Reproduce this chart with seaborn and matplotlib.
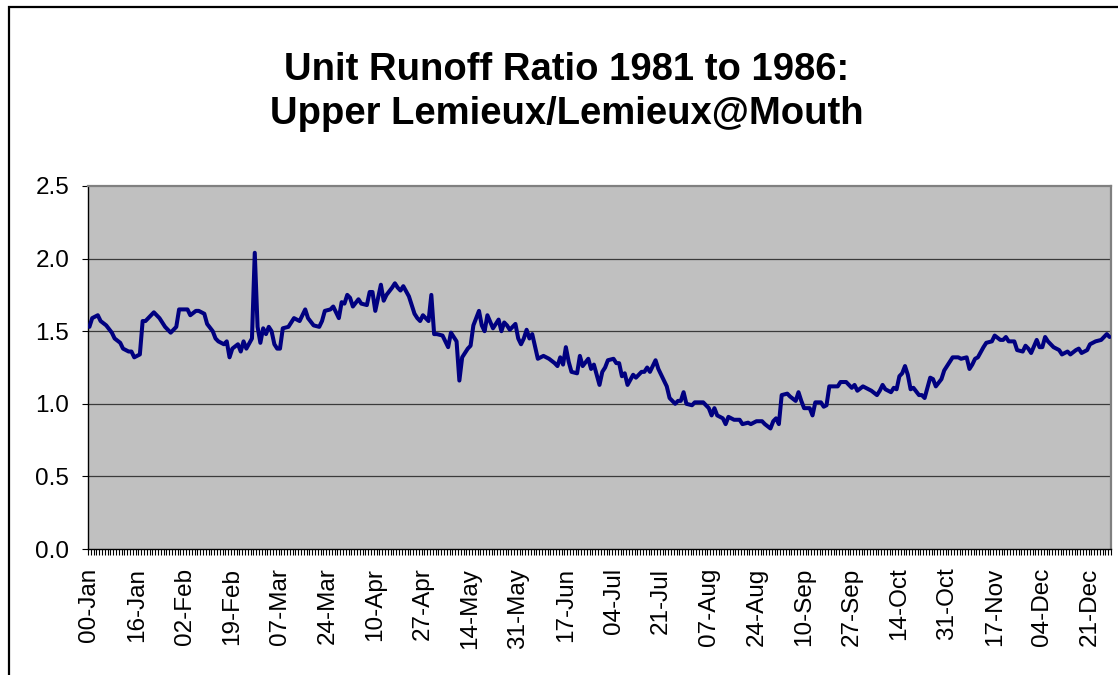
import numpy as np
import pandas as pd
import matplotlib
matplotlib.use("Agg")
import matplotlib.pyplot as plt
from matplotlib.patches import Rectangle
import seaborn as sns

# day of year (category index) and unit runoff ratio
day = [0, 1, 3, 4, 6, 8, 9, 11, 12, 14, 15, 16, 18, 19, 20, 21, 23, 25, 27, 29,
       31, 32, 33, 35, 36, 38, 39, 41, 42, 44, 45, 46, 48, 49, 50, 51, 53, 54, 55, 56,
       58, 59, 60, 61, 62, 63, 64, 65, 66, 67, 68, 69, 71, 73, 75, 77, 78, 80, 82, 83,
       84, 86, 87, 89, 90, 91, 92, 93, 94, 96, 97, 99, 100, 101, 102, 103, 104, 105, 106, 108,
       109, 110, 111, 112, 114, 116, 117, 118, 119, 121, 122, 123, 124, 126, 128, 129, 131, 132, 133, 135,
       136, 137, 139, 140, 141, 142, 144, 145, 146, 147, 148, 149, 150, 152, 153, 154, 155, 156, 157, 158,
       160, 162, 164, 166, 167, 168, 169, 170, 171, 172, 174, 175, 176, 178, 179, 180, 182, 183, 184, 185,
       187, 188, 189, 190, 191, 192, 194, 195, 197, 198, 199, 200, 202, 203, 205, 206, 207, 209, 210, 211,
       212, 213, 215, 216, 218, 219, 221, 222, 223, 224, 226, 227, 228, 230, 232, 233, 235, 236, 238, 240,
       241, 243, 244, 245, 246, 247, 249, 250, 252, 253, 254, 255, 257, 258, 259, 261, 262, 263, 264, 266,
       267, 268, 270, 272, 273, 274, 276, 278, 279, 281, 282, 283, 284, 286, 287, 288, 289, 290, 291, 292,
       293, 294, 296, 297, 298, 300, 301, 302, 304, 305, 306, 308, 310, 311, 313, 314, 315, 316, 317, 319,
       320, 322, 323, 325, 326, 327, 328, 330, 331, 333, 334, 335, 336, 338, 339, 340, 341, 342, 344, 346,
       347, 349, 350, 352, 353, 354, 356, 357, 359, 361, 362, 363, 364]

ratio = [1.53, 1.59, 1.61, 1.57, 1.54, 1.49, 1.45, 1.42, 1.38, 1.36, 1.36, 1.32, 1.34, 1.57, 1.57, 1.59, 1.63, 1.59, 1.53, 1.49,
         1.53, 1.65, 1.65, 1.65, 1.61, 1.64, 1.64, 1.62, 1.55, 1.50, 1.45, 1.43, 1.41, 1.43, 1.32, 1.38, 1.41, 1.36, 1.43, 1.38,
         1.45, 2.04, 1.53, 1.42, 1.52, 1.48, 1.53, 1.50, 1.41, 1.38, 1.38, 1.52, 1.53, 1.59, 1.57, 1.65, 1.59, 1.54, 1.53, 1.57,
         1.64, 1.65, 1.67, 1.59, 1.70, 1.69, 1.75, 1.73, 1.67, 1.72, 1.69, 1.68, 1.77, 1.77, 1.64, 1.73, 1.82, 1.71, 1.75, 1.80,
         1.83, 1.80, 1.78, 1.81, 1.74, 1.62, 1.59, 1.57, 1.61, 1.57, 1.75, 1.48, 1.48, 1.47, 1.39, 1.49, 1.43, 1.16, 1.32, 1.38,
         1.40, 1.54, 1.64, 1.54, 1.50, 1.61, 1.52, 1.55, 1.58, 1.50, 1.56, 1.54, 1.51, 1.55, 1.45, 1.41, 1.45, 1.51, 1.45, 1.48,
         1.31, 1.33, 1.31, 1.28, 1.26, 1.32, 1.27, 1.39, 1.29, 1.22, 1.21, 1.33, 1.26, 1.31, 1.24, 1.27, 1.13, 1.22, 1.25, 1.30,
         1.31, 1.28, 1.28, 1.19, 1.21, 1.13, 1.20, 1.18, 1.22, 1.22, 1.25, 1.22, 1.30, 1.24, 1.16, 1.12, 1.04, 1.00, 1.02, 1.02,
         1.08, 1.00, 0.99, 1.01, 1.01, 1.01, 0.97, 0.92, 0.97, 0.92, 0.90, 0.86, 0.91, 0.89, 0.89, 0.86, 0.87, 0.86, 0.88, 0.88,
         0.86, 0.83, 0.88, 0.90, 0.86, 1.06, 1.07, 1.05, 1.02, 1.08, 1.02, 0.97, 0.97, 0.92, 1.01, 1.01, 0.98, 0.99, 1.12, 1.12,
         1.12, 1.15, 1.15, 1.11, 1.13, 1.09, 1.12, 1.10, 1.09, 1.06, 1.09, 1.13, 1.10, 1.08, 1.11, 1.10, 1.19, 1.21, 1.26, 1.20,
         1.10, 1.11, 1.06, 1.06, 1.04, 1.18, 1.17, 1.12, 1.17, 1.23, 1.26, 1.32, 1.32, 1.31, 1.32, 1.24, 1.27, 1.31, 1.32, 1.39,
         1.42, 1.43, 1.47, 1.44, 1.44, 1.46, 1.43, 1.43, 1.37, 1.36, 1.40, 1.38, 1.35, 1.44, 1.39, 1.39, 1.46, 1.43, 1.39, 1.37,
         1.34, 1.36, 1.34, 1.37, 1.38, 1.35, 1.37, 1.41, 1.43, 1.44, 1.46, 1.48, 1.46]

n_days = 365
date_labels = ["00-Jan", "16-Jan", "02-Feb", "19-Feb", "07-Mar", "24-Mar", "10-Apr", "27-Apr",
               "14-May", "31-May", "17-Jun", "04-Jul", "21-Jul", "07-Aug", "24-Aug", "10-Sep",
               "27-Sep", "14-Oct", "31-Oct", "17-Nov", "04-Dec", "21-Dec"]
label_step = 17
y_ticks = [0.0, 0.5, 1.0, 1.5, 2.0, 2.5]

sns.set_style("white")
plt.rcParams["font.family"] = ["Liberation Sans", "DejaVu Sans"]
plt.rcParams["text.color"] = "black"
plt.rcParams["xtick.color"] = "black"
plt.rcParams["ytick.color"] = "black"

df = pd.DataFrame({"day": day, "ratio": ratio})

W, H = 1118, 675
fig = plt.figure(figsize=(W / 100, H / 100), dpi=100)
fig.patch.set_facecolor("white")
ax = fig.add_axes([88 / W, 1 - 549 / H, (1111 - 88) / W, (549 - 186) / H])
ax.set_facecolor("#C0C0C0")

for yv in y_ticks[1:-1]:
    ax.axhline(yv, color="#3a3a3a", lw=0.9, zorder=1)

sns.lineplot(data=df, x="day", y="ratio", ax=ax, color="#000080", linewidth=2.9, zorder=3)

ax.set_xlim(-0.5, n_days - 0.5)
ax.set_ylim(0, 2.5)
ax.set_yticks(y_ticks)
ax.set_yticklabels([f"{v:.1f}" for v in y_ticks])
ax.set_xticks(np.arange(0, n_days, label_step))
ax.set_xticklabels(date_labels, rotation=90)
ax.set_xticks(np.arange(-0.5, n_days, 1), minor=True)
ax.tick_params(axis="x", which="major", bottom=True, length=0, pad=13.5, labelsize=17.5,
               labelcolor="black")
ax.tick_params(axis="x", which="minor", bottom=True, length=4.5, width=0.8, color="black",
               direction="out")
ax.tick_params(axis="y", left=True, length=4.5, width=0.8, color="black", direction="out",
               pad=9, labelsize=17.5, labelcolor="black")
ax.set_xlabel("")
ax.set_ylabel("")

for side in ["left", "bottom"]:
    ax.spines[side].set_color("black")
    ax.spines[side].set_linewidth(1.0)
for side in ["top", "right"]:
    ax.spines[side].set_color("#808080")
    ax.spines[side].set_linewidth(1.6)

fig.text(567 / W, 1 - 92 / H, "Unit Runoff Ratio 1981 to 1986:\nUpper Lemieux/Lemieux@Mouth",
         ha="center", va="center", fontsize=27.5, fontweight="bold", linespacing=1.25,
         color="black")

fig.patches.append(Rectangle((9 / W, -0.1), 1.2, 1.1 - 7 / H, transform=fig.transFigure,
                             fill=False, edgecolor="black", linewidth=1.6))

fig.savefig("out.png", dpi=100)
